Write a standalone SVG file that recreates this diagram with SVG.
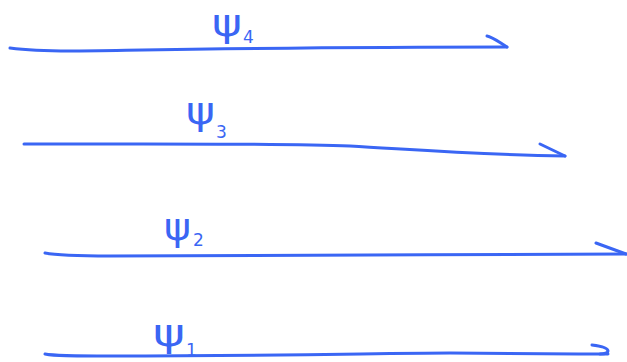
<svg xmlns="http://www.w3.org/2000/svg" width="627" height="362" viewBox="0 0 627 362">
<style>
.s{fill:none;stroke:#3a66f4;stroke-width:3;stroke-linecap:round;stroke-linejoin:round}
.l{fill:#3a66f4;font-family:"DejaVu Sans",sans-serif}
.p{font-size:38px}
.b{font-size:17px}
</style>
<rect width="627" height="362" fill="#ffffff"/>
<g id="connectors">
<path class="s" d="M10,48 C25,50 40,51 70,51 C150,50 300,47 507,47"/>
<path class="s" d="M487,36 C493,37 500,43 507,47"/>
<path class="s" d="M24,144 C150,144 280,143 350,146 C420,150 480,155 565,156"/>
<path class="s" d="M540,144 L565,156"/>
<path class="s" d="M45,253 C55,255 70,256 110,256 C300,256 450,254 626,254"/>
<path class="s" d="M596,243 L626,254"/>
<path class="s" d="M45,354 C55,356 70,356 110,356 C300,356 380,353 450,353 C520,353 560,354 608,354"/>
<path class="s" d="M592,345 C600,346 608,348 608,351 C608,353 604,354 600,354"/>
</g>
<g id="psi4"><text class="l p" x="212" y="36" textLength="30" lengthAdjust="spacingAndGlyphs">ψ</text><text class="l b" x="243" y="43">4</text></g>
<g id="psi3"><text class="l p" x="186" y="124" textLength="29" lengthAdjust="spacingAndGlyphs">ψ</text><text class="l b" x="216" y="138">3</text></g>
<g id="psi2"><text class="l p" x="164" y="240" textLength="27" lengthAdjust="spacingAndGlyphs">ψ</text><text class="l b" x="193" y="246">2</text></g>
<g id="psi1"><text class="l p" x="153" y="346" textLength="32" lengthAdjust="spacingAndGlyphs">ψ</text><text class="l b" x="186" y="356">1</text></g>
</svg>
